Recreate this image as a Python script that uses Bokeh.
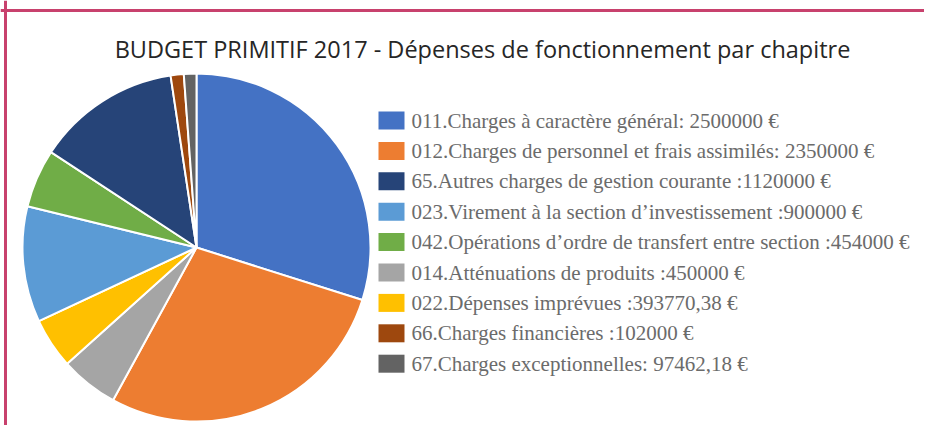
import math
from bokeh.plotting import figure
from bokeh.models import ColumnDataSource, Span
from bokeh.core.properties import value
from bokeh.embed import file_html
from bokeh.resources import INLINE

# ---- data (legend order) ----
codes = ["011", "012", "65", "023", "042", "014", "022", "66", "67"]
labels = [
    "011.Charges à caractère général: 2500000 €",
    "012.Charges de personnel et frais assimilés: 2350000 €",
    "65.Autres charges de gestion courante :1120000 €",
    "023.Virement à la section d’investissement :900000 €",
    "042.Opérations d’ordre de transfert entre section :454000 €",
    "014.Atténuations de produits :450000 €",
    "022.Dépenses imprévues :393770,38 €",
    "66.Charges financières :102000 €",
    "67.Charges exceptionnelles: 97462,18 €",
]
amounts = [2500000, 2350000, 1120000, 900000, 454000, 450000, 393770.38, 102000, 97462.18]
colors = ["#4472C4", "#ED7D31", "#264478", "#5B9BD5", "#70AD47", "#A5A5A5", "#FFC000", "#9E480E", "#636363"]
# order of slices clockwise from 12 o'clock
pie_order = ["011", "012", "014", "022", "023", "042", "65", "66", "67"]
title_text = "BUDGET PRIMITIF 2017 - Dépenses de fonctionnement par chapitre"

W, H = 924, 425
p = figure(width=W, height=H, x_range=(0, W), y_range=(0, H),
           output_backend="svg", toolbar_location=None, min_border=0)
p.axis.visible = False
p.grid.visible = False
p.outline_line_color = None
p.background_fill_color = "white"

# ---- pie ----
total = sum(amounts)
cx, cy, r = 196, H - 247, 174
starts, ends, cols = [], [], []
cum = 0.0
for c in pie_order:
    i = codes.index(c)
    a0 = cum / total * 2 * math.pi
    cum += amounts[i]
    a1 = cum / total * 2 * math.pi
    starts.append(math.pi / 2 - a1)
    ends.append(math.pi / 2 - a0)
    cols.append(colors[i])
src = ColumnDataSource(dict(x=[cx] * len(starts), y=[cy] * len(starts),
                            s=starts, e=ends, c=cols))
p.wedge(x="x", y="y", radius=r, start_angle="s", end_angle="e",
        fill_color="c", line_color="white", line_width=2, source=src)

# ---- legend ----
ly0, dy = H - 120, 30.4
lys = [ly0 - k * dy for k in range(len(codes))]
p.rect(x=[391] * len(codes), y=lys, width=26, height=18,
       fill_color=colors, line_color=None)
p.text(x=[411] * len(codes), y=lys, text=labels,
       text_font=value("Liberation Serif"), text_font_size="21px",
       text_color="#6b6b6b", text_baseline="middle", text_align="left")

# ---- title ----
p.text(x=[482], y=[H - 48], text=[title_text], text_font=value("Open Sans"),
       text_font_size="23.5px", text_color="#262626", text_baseline="middle",
       text_align="center")

# ---- frame lines ----
p.add_layout(Span(location=H - 10, dimension="width", line_color="#C8416D", line_width=3))
p.add_layout(Span(location=5, dimension="height", line_color="#C8416D", line_width=3))

open("out.html", "w").write(file_html(p, INLINE))
